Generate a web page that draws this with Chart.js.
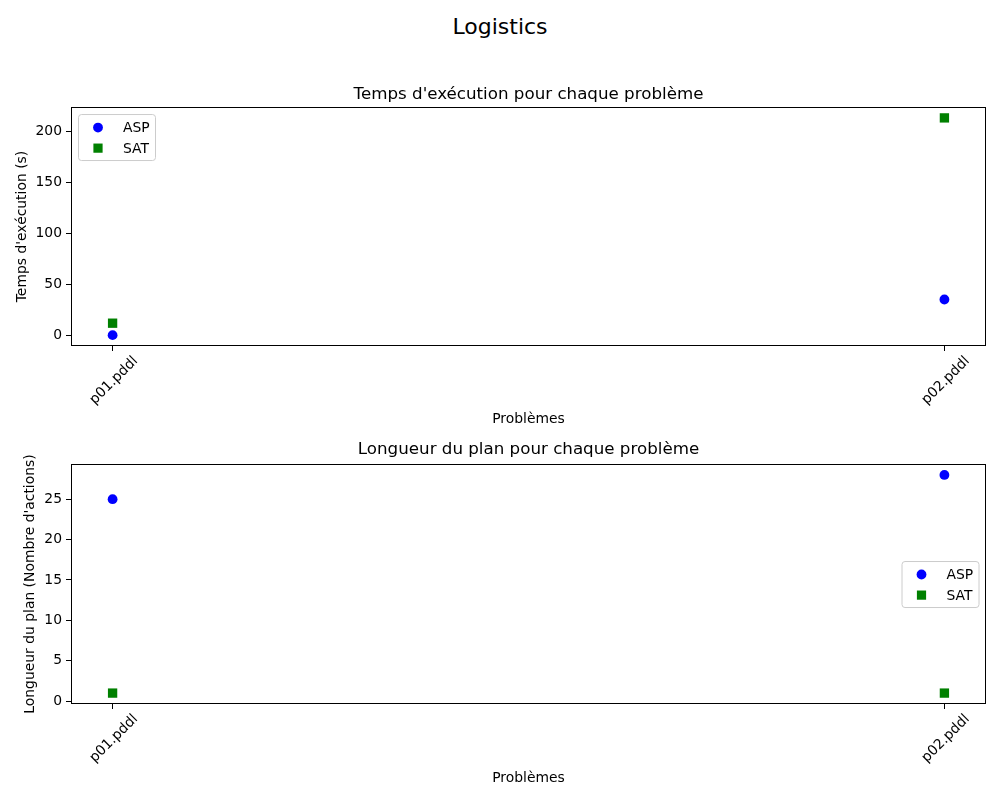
<!DOCTYPE html>
<html><head><meta charset="utf-8">
<script src="https://cdn.jsdelivr.net/npm/chart.js@4"></script>
<style>
body{margin:0;background:#fff;width:1000px;height:800px;position:relative;overflow:hidden;font-family:"DejaVu Sans",sans-serif}
#sup{position:absolute;top:12px;left:0;width:1000px;text-align:center;font-size:22px;line-height:30px;color:#000}
canvas{position:absolute;left:0}
</style></head><body>
<div id="sup">Logistics</div>
<canvas id="c1" width="1000" height="440" style="top:0px"></canvas>
<canvas id="c2" width="1000" height="360" style="top:440px"></canvas>
<script>
// ---- data ----
const problems = ['p01.pddl', 'p02.pddl'];
const timeASP = [0.7, 35.6];
const timeSAT = [12.4, 213.4];
const lenASP = [25, 28];
const lenSAT = [1, 1];
const timeTicks = [0, 50, 100, 150, 200];
const lenTicks = [0, 5, 10, 15, 20, 25];
const seriesNames = ['ASP', 'SAT'];

Chart.defaults.color = '#000';
Chart.defaults.font.family = '"DejaVu Sans", sans-serif';
Chart.defaults.font.size = 13.9;

const FONT = '13.9px "DejaVu Sans", sans-serif';

const framePlugin = {
  id: 'frame',
  afterDraw(chart) {
    const {ctx, chartArea: a} = chart;
    ctx.save();
    ctx.strokeStyle = '#000';
    ctx.lineWidth = 1;
    const l = Math.round(a.left) + 0.5, t = Math.round(a.top) + 0.5;
    const r = Math.round(a.right) - 0.5, b = Math.round(a.bottom) - 0.5;
    ctx.strokeRect(l, t, r - l, b - t);
    ctx.restore();
  }
};

const mplLegend = {
  id: 'mplLegend',
  afterDraw(chart, args, opts) {
    const {ctx, chartArea: a} = chart;
    const w = 77, h = 46;
    let left, top;
    if (opts.loc === 'upper left') { left = a.left + 7; top = a.top + 7; }
    else { left = a.right - 7.5 - w; top = (a.top + a.bottom) / 2 - h / 2; }
    ctx.save();
    ctx.beginPath();
    if (ctx.roundRect) ctx.roundRect(left + 0.5, top + 0.5, w, h, 3); else ctx.rect(left + 0.5, top + 0.5, w, h);
    ctx.fillStyle = 'rgba(255,255,255,0.8)';
    ctx.fill();
    ctx.strokeStyle = '#cccccc';
    ctx.lineWidth = 1;
    ctx.stroke();
    chart.data.datasets.forEach((ds, i) => {
      const y = top + 13.5 + i * 20.6;
      const x = left + 20;
      ctx.fillStyle = ds.backgroundColor;
      if (ds.pointStyle === 'circle') {
        ctx.beginPath(); ctx.arc(x, y, 4.9, 0, Math.PI * 2); ctx.fill();
      } else {
        ctx.fillRect(x - 4.6, y - 4.6, 9.2, 9.2);
      }
      ctx.fillStyle = '#000';
      ctx.font = FONT;
      ctx.textBaseline = 'middle';
      ctx.textAlign = 'left';
      ctx.fillText(ds.label, left + 45, y + 1);
    });
    ctx.restore();
  }
};

function range(vals) {
  const mn = Math.min(...vals), mx = Math.max(...vals);
  const m = (mx - mn) * 0.05;
  return [mn - m, mx + m];
}

function makeChart(id, cfg) {
  const [ymin, ymax] = range(cfg.a.concat(cfg.s));
  return new Chart(document.getElementById(id), {
    type: 'scatter',
    data: {
      datasets: [
        { label: seriesNames[0], data: cfg.a.map((v, i) => ({x: i, y: v})), backgroundColor: '#0000ff', borderColor: '#0000ff', borderWidth: 0, pointStyle: 'circle', pointRadius: 4.9, pointHoverRadius: 4.9 },
        { label: seriesNames[1], data: cfg.s.map((v, i) => ({x: i, y: v})), backgroundColor: '#008000', borderColor: '#008000', borderWidth: 0, pointStyle: 'rect', pointRadius: 6.6, pointHoverRadius: 6.6 }
      ]
    },
    options: {
      responsive: false,
      animation: false,
      events: [],
      layout: { padding: { left: 0, right: 14, top: 0, bottom: 0 } },
      plugins: {
        legend: { display: false },
        tooltip: { enabled: false },
        title: { display: true, text: cfg.title, fullSize: false, color: '#000',
          font: { size: 16.7, weight: 'normal', lineHeight: 1.2 },
          padding: { top: cfg.tpt, bottom: cfg.tpb } },
        mplLegend: { loc: cfg.loc }
      },
      scales: {
        x: {
          type: 'linear', min: -0.05, max: 1.05,
          afterBuildTicks: s => { s.ticks = problems.map((_, i) => ({value: i})); },
          afterFit: s => { s.height = cfg.xh; },
          ticks: { autoSkip: false, minRotation: 45, maxRotation: 45, padding: 2, labelOffset: 23,
            callback: v => problems[v] },
          grid: { display: true, drawOnChartArea: false, drawTicks: true, tickLength: 5, color: '#000', lineWidth: 1 },
          border: { display: false },
          title: { display: true, text: 'Problèmes', padding: { top: 0, bottom: cfg.xtp } }
        },
        y: {
          type: 'linear', min: ymin, max: ymax,
          afterBuildTicks: s => { s.ticks = cfg.ticks.map(v => ({value: v})); },
          afterFit: s => { s.width = 71; },
          ticks: { padding: 4, callback: v => String(v) },
          grid: { display: true, drawOnChartArea: false, drawTicks: true, tickLength: 5, color: '#000', lineWidth: 1 },
          border: { display: false },
          title: { display: true, text: cfg.ytitle, padding: { top: cfg.ytp, bottom: 0 } }
        }
      }
    },
    plugins: [framePlugin, mplLegend]
  });
}

makeChart('c1', {
  title: "Temps d'exécution pour chaque problème",
  ytitle: "Temps d'exécution (s)",
  a: timeASP, s: timeSAT, ticks: timeTicks, loc: 'upper left',
  tpt: 84.4, tpb: 2.6, xh: 94, xtp: 12.7, ytp: 13.7
});
makeChart('c2', {
  title: 'Longueur du plan pour chaque problème',
  ytitle: "Longueur du plan (Nombre d'actions)",
  a: lenASP, s: lenSAT, ticks: lenTicks, loc: 'center right',
  tpt: 0, tpb: 4, xh: 96, xtp: 13.7, ytp: 21.7
});
</script>
</body></html>
